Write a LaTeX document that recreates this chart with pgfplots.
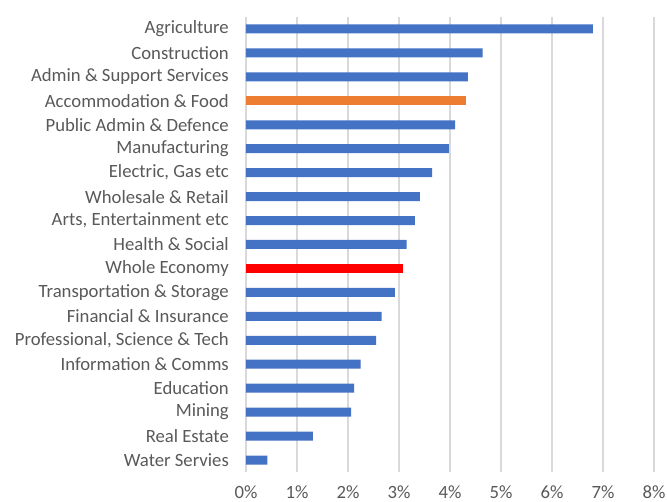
\documentclass[border=0pt]{standalone}
\usepackage{pgfplots}
\pgfplotsset{compat=1.18}
\usepackage{fontspec}
\setmainfont{Carlito}
\definecolor{barblue}{HTML}{4472C4}
\definecolor{barorange}{HTML}{ED7D31}
\definecolor{barred}{HTML}{FF0000}
\definecolor{gridgray}{HTML}{D9D9D9}
\definecolor{textgray}{HTML}{595959}
\begin{document}
\begin{tikzpicture}[x=1pt,y=1pt]
\useasboundingbox (-246,-30) rectangle (421,472);
\begin{axis}[
  at={(0,0)}, anchor=south west,
  scale only axis, width=408pt, height=455pt,
  xmin=0, xmax=8, ymin=-0.5, ymax=18.5,
  xbar, bar width=9pt, bar shift=0pt,
  axis line style={draw=none},
  xmajorgrids, grid style={gridgray, line width=1.4pt},
  xtick={0,...,8},
  xticklabel={\pgfmathprintnumber{\tick}\%},
  ytick={0,...,18},
  yticklabels={Water Servies,Real Estate,Mining,Education,Information \& Comms,{Professional, Science \& Tech},Financial \& Insurance,Transportation \& Storage,Whole Economy,Health \& Social,{Arts, Entertainment etc},Wholesale \& Retail,{Electric, Gas etc},Manufacturing,Public Admin \& Defence,Accommodation \& Food,Admin \& Support Services,Construction,Agriculture},
  major tick length=0pt,
  tick label style={font=\fontsize{18.7}{21}\selectfont, text=textgray},
  /pgf/number format/assume math mode=true,
  y tick label style={anchor=east, inner sep=0pt, xshift=-17pt},
  x tick label style={anchor=center, inner sep=0pt, yshift=-20pt},
]
\addplot[fill=barblue, draw=none] coordinates {
(0.42,0) (1.31,1) (2.06,2) (2.12,3) (2.25,4) (2.55,5) (2.66,6) (2.92,7)
(3.15,9) (3.31,10) (3.41,11) (3.65,12) (3.98,13) (4.10,14) (4.35,16) (4.64,17) (6.80,18)};
\addplot[fill=barred, draw=none] coordinates {(3.08,8)};
\addplot[fill=barorange, draw=none] coordinates {(4.31,15)};
\end{axis}
\end{tikzpicture}
\end{document}
